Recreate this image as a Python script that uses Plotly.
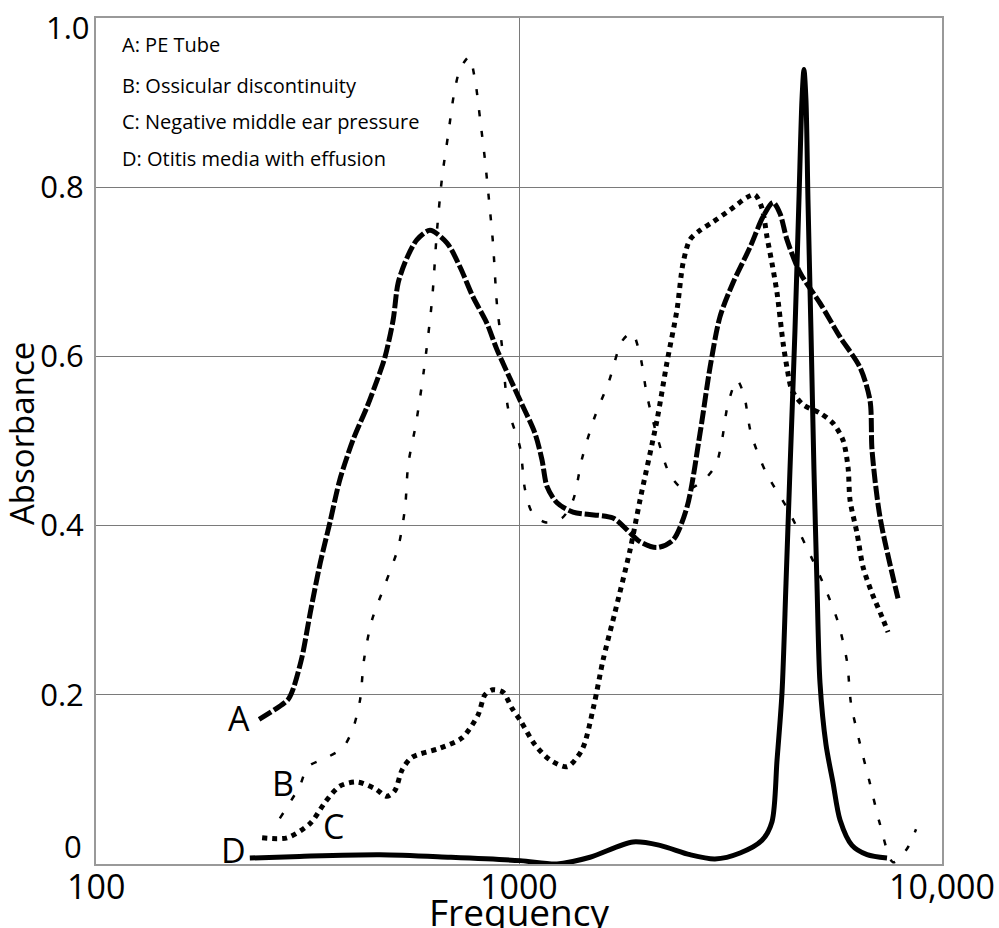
import math
import plotly.graph_objects as go

# Frequency (Hz) / absorbance readings for the four middle-ear conditions
freq_a = [243, 284, 292, 307, 321, 339, 357, 377, 405, 437, 462, 482, 504, 518, 544, 574, 616,
          676, 725, 779, 840, 887, 1006, 1091, 1133, 1165, 1230, 1342, 1668, 1800, 1932, 2120,
          2313, 2496, 2679, 2829, 2987, 3206, 3517, 3774, 3986, 4140, 4300, 4617, 5147, 5740,
          6400, 6758, 6833, 7136, 7870]
abs_a = [0.171, 0.194, 0.206, 0.245, 0.297, 0.356, 0.403, 0.454, 0.501, 0.540, 0.572, 0.599,
         0.643, 0.687, 0.717, 0.738, 0.749, 0.734, 0.706, 0.670, 0.639, 0.608, 0.548, 0.509,
         0.478, 0.446, 0.427, 0.416, 0.409, 0.395, 0.381, 0.374, 0.383, 0.422, 0.509, 0.587,
         0.647, 0.687, 0.729, 0.765, 0.782, 0.769, 0.738, 0.699, 0.663, 0.623, 0.587, 0.548,
         0.489, 0.410, 0.314]

freq_b = [272, 303, 317, 352, 384, 405, 421, 430, 449, 482, 518, 538, 547, 571, 596, 623, 640,
          658, 680, 702, 725, 762, 787, 809, 831, 850, 868, 887, 912, 942, 1006, 1033, 1073,
          1152, 1264, 1342, 1409, 1504, 1633, 1752, 1850, 1932, 2007, 2120, 2275, 2469, 2723,
          2922, 3019, 3120, 3277, 3404, 3536, 3835, 4300, 4769, 5233, 5677, 5964, 6093, 6400,
          6758, 7136, 7660, 8266, 8682]
abs_b = [0.054, 0.092, 0.115, 0.126, 0.138, 0.160, 0.194, 0.241, 0.288, 0.330, 0.374, 0.422,
         0.472, 0.521, 0.584, 0.667, 0.749, 0.812, 0.862, 0.910, 0.939, 0.954, 0.927, 0.881,
         0.832, 0.783, 0.734, 0.661, 0.611, 0.539, 0.492, 0.443, 0.416, 0.404, 0.409, 0.430,
         0.479, 0.526, 0.571, 0.618, 0.628, 0.602, 0.554, 0.506, 0.460, 0.442, 0.453, 0.472,
         0.501, 0.544, 0.572, 0.554, 0.509, 0.463, 0.421, 0.376, 0.332, 0.286, 0.239, 0.190,
         0.142, 0.095, 0.047, 0.002, 0.018, 0.041]

freq_c = [247, 283, 321, 348, 377, 414, 457, 487, 509, 529, 558, 651, 733, 800, 831, 868, 917,
          963, 1006, 1091, 1184, 1299, 1409, 1504, 1580, 1687, 1830, 1932, 2120, 2238, 2363,
          2442, 2536, 2679, 2874, 3153, 3459, 3614, 3754, 3858, 3964, 4074, 4210, 4300, 4419,
          4691, 5147, 5525, 5834, 5996, 6062, 6297, 6507, 6833, 7215, 7454]
abs_c = [0.031, 0.031, 0.048, 0.073, 0.092, 0.097, 0.089, 0.080, 0.087, 0.111, 0.126, 0.137,
         0.149, 0.176, 0.200, 0.206, 0.203, 0.184, 0.170, 0.141, 0.123, 0.115, 0.135, 0.188,
         0.241, 0.298, 0.371, 0.430, 0.525, 0.593, 0.655, 0.710, 0.738, 0.749, 0.759, 0.773,
         0.788, 0.791, 0.775, 0.741, 0.710, 0.675, 0.616, 0.587, 0.560, 0.543, 0.533, 0.521,
         0.501, 0.469, 0.430, 0.391, 0.351, 0.320, 0.292, 0.274]

freq_d = [231, 303, 469, 687, 1006, 1230, 1472, 1860, 2154, 2536, 2906, 3331, 3754, 3964, 4074,
          4185, 4278, 4371, 4492, 4590, 4666, 4717, 4769, 4821, 4900, 4981, 5063, 5147, 5318,
          5525, 5740, 6127, 6651, 7413]
abs_d = [0.007, 0.009, 0.011, 0.008, 0.004, 0.000, 0.008, 0.026, 0.022, 0.011, 0.006, 0.013,
         0.028, 0.050, 0.123, 0.202, 0.332, 0.466, 0.631, 0.785, 0.903, 0.939, 0.903, 0.785,
         0.631, 0.466, 0.332, 0.214, 0.141, 0.096, 0.052, 0.022, 0.011, 0.007]

legend_lines = ["A: PE Tube", "B: Ossicular discontinuity",
                "C: Negative middle ear pressure", "D: Otitis media with effusion"]
curve_letters = ["A", "B", "C", "D"]
x_tick_vals = [100, 1000, 10000]
x_tick_text = ["100", "1000", "10,000"]
y_tick_vals = [0.2, 0.4, 0.6, 0.8]
y_tick_text = ["0.2", "0.4", "0.6", "0.8"]

FONT = "Open Sans"
GRID = "#7a7a7a"

# plot area in pixels
L, R, T, B = 96, 942, 18, 864
W, H = 999, 928

fig = go.Figure()

styles = [
    (freq_a, abs_a, dict(color="black", width=5, dash="14px,3px")),
    (freq_b, abs_b, dict(color="black", width=2.5, dash="6px,15px")),
    (freq_c, abs_c, dict(color="black", width=5, dash="5px,5px")),
    (freq_d, abs_d, dict(color="black", width=5)),
]
for (fx, ay, ln), name in zip(styles, curve_letters):
    fig.add_trace(go.Scatter(x=fx, y=ay, mode="lines", name=name,
                             line=dict(shape="spline", smoothing=0.8, **ln),
                             showlegend=False, hoverinfo="x+y"))

annotations = []

# condition key in the top-left corner (pixel rows of each line)
key_rows = [44, 85, 122, 158]
for txt, row in zip(legend_lines, key_rows):
    annotations.append(dict(x=(120 - L) / (R - L), y=1 - (row - T) / (B - T),
                            xref="x domain", yref="y domain", text=txt,
                            showarrow=False, xanchor="left", yanchor="middle",
                            font=dict(family=FONT, size=20, color="black")))

# letter tags next to the start of each curve (offsets in pixels)
tag_offsets = [(-20, 1), (3, 35), (71, 12), (-16, 8)]
starts = [(freq_a[0], abs_a[0]), (freq_b[0], abs_b[0]), (freq_c[0], abs_c[0]), (freq_d[0], abs_d[0])]
for letter, (fx, ay), (dx, dy) in zip(curve_letters, starts, tag_offsets):
    annotations.append(dict(x=math.log10(fx), y=ay, xref="x", yref="y", text=letter,
                            showarrow=False, xshift=dx, yshift=dy,
                            xanchor="center", yanchor="middle",
                            font=dict(family=FONT, size=34, color="black")))

# end labels of the y axis
annotations.append(dict(x=0, y=1.0, xref="x domain", yref="y", text="1.0", showarrow=False,
                        xanchor="right", yanchor="middle", xshift=-4, yshift=-9,
                        font=dict(family=FONT, size=31, color="black")))
annotations.append(dict(x=0, y=0, xref="x domain", yref="y", text="0", showarrow=False,
                        xanchor="right", yanchor="middle", xshift=-12, yshift=18,
                        font=dict(family=FONT, size=31, color="black")))

# x tick labels, set close under the axis
for v, t in zip(x_tick_vals, x_tick_text):
    annotations.append(dict(x=math.log10(v), y=0, xref="x", yref="y domain", text=t,
                            showarrow=False, xanchor="center", yanchor="middle", yshift=-22,
                            font=dict(family=FONT, size=34, color="black")))

# axis titles
annotations.append(dict(x=0.5, y=0, xref="x domain", yref="y domain", text="Frequency",
                        showarrow=False, xanchor="center", yanchor="top", yshift=-20,
                        font=dict(family=FONT, size=37, color="black")))
annotations.append(dict(x=0, y=0.5, xref="x domain", yref="y domain", text="Absorbance",
                        showarrow=False, xanchor="center", yanchor="middle", textangle=-90,
                        xshift=-75, yshift=7,
                        font=dict(family=FONT, size=33, color="black")))

fig.update_layout(
    width=W, height=H,
    margin=dict(l=L, r=W - R, t=T, b=H - B),
    plot_bgcolor="white", paper_bgcolor="white",
    annotations=annotations,
    xaxis=dict(type="log", range=[2, 4], tickvals=x_tick_vals, showticklabels=False,
               automargin=False,
               showgrid=True, gridcolor=GRID, gridwidth=1.3, showline=True, linecolor="#999999",
               linewidth=2, mirror=True, ticks="", zeroline=False),
    yaxis=dict(range=[0, 1.0], tickvals=y_tick_vals, ticktext=y_tick_text,
               automargin=False,
               showgrid=True, gridcolor=GRID, gridwidth=1.3, showline=True, linecolor="#999999",
               linewidth=2, mirror=True, ticks="", zeroline=False, ticklabelstandoff=4,
               tickfont=dict(family=FONT, size=31, color="black")),
)

fig.write_html("out.html")
